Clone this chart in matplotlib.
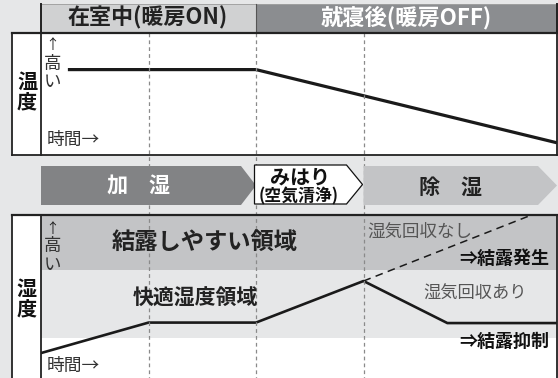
import matplotlib
matplotlib.use("Agg")
import matplotlib.pyplot as plt
from matplotlib.patches import Rectangle, Polygon

plt.rcParams['font.family'] = ['Noto Sans CJK JP', 'DejaVu Sans']

# ---------------- data ----------------
phase_bounds = [1.0, 2.0, 3.0]          # dashed guide lines (time units)
t_end = 4.8

temp_t = [0.25, 2.0, 4.8]
temp_v = [0.70, 0.70, 0.10]

hum_t = [0.0, 1.0, 2.0, 3.0, 3.78, 4.8]
hum_v = [0.153, 0.34, 0.34, 0.595, 0.337, 0.337]
hum_noreclaim_t = [3.0, 4.54]
hum_noreclaim_v = [0.595, 0.994]

band_condense = (0.663, 1.0)
band_comfort = (0.247, 0.663)

header_labels = ["在室中(暖房ON)", "就寝後(暖房OFF)"]
mode_labels = ["加　湿", "みはり", "(空気清浄)", "除　湿"]

# ---------------- layout (pixels) ----------------
W, H = 558, 378
X0, X_LAB, X1 = 12, 41, 557
PX_PER_T = (X1 - X_LAB) / t_end
BG = "#e6e7e8"
DARK = "#222222"
JP = ['Noto Sans CJK JP', 'DejaVu Sans']


def tx(t):
    return X_LAB + t * PX_PER_T


fig = plt.figure(figsize=(W / 100, H / 100), dpi=100, facecolor=BG)
renderer = fig.canvas.get_renderer()


def panel(y_top, y_bot):
    ax = fig.add_axes([X_LAB / W, 1 - y_bot / H, (X1 - X_LAB) / W, (y_bot - y_top) / H])
    ax.set_xlim(0, t_end)
    ax.set_ylim(0, 1)
    ax.set_facecolor("white")
    ax.set_axis_off()
    ax.add_patch(Rectangle((0, 0), 1, 1, transform=ax.transAxes, color="white", zorder=0))
    return ax


# temperature panel
ax_t = panel(33, 155)
ax_t.plot(temp_t, temp_v, color="#1a1a1a", lw=2.3, solid_capstyle="butt", zorder=3)

# humidity panel
ax_h = panel(215, 378)
ax_h.axhspan(*band_condense, color="#c3c4c6", lw=0, zorder=1)
ax_h.axhspan(*band_comfort, color="#e6e7e8", lw=0, zorder=1)
ax_h.plot(hum_t, hum_v, color="#1a1a1a", lw=1.9, zorder=3)
ax_h.plot(hum_noreclaim_t, hum_noreclaim_v, color="#1a1a1a", lw=1.1,
          dashes=(5, 3.5), zorder=3)

# overlay canvas in pixel coordinates
cv = fig.add_axes([0, 0, 1, 1], facecolor="none")
cv.set_xlim(0, W)
cv.set_ylim(H, 0)
cv.set_axis_off()


def label(x, y, s, width=None, size=12, **kw):
    """Place text; if width (px) is given, scale the font so the text spans it."""
    kw.setdefault("ha", "center")
    kw.setdefault("va", "center")
    kw.setdefault("color", "#222222")
    t = cv.text(x, y, s, fontsize=size, family=JP, zorder=kw.pop("zorder", 5), **kw)
    if width:
        w = t.get_window_extent(renderer).width
        t.set_fontsize(size * width / w)
    return t


# dashed guides
for b in phase_bounds:
    cv.plot([tx(b), tx(b)], [33, H], color="#8a8a8a", lw=0.9, dashes=(3, 2.5), zorder=2)

# header
x_mid = tx(phase_bounds[1])
cv.add_patch(Rectangle((X_LAB, 4), x_mid - X_LAB, 29, facecolor="#d0d1d2", edgecolor="#9a9a9a", lw=0.6, zorder=3))
cv.add_patch(Rectangle((x_mid, 4), X1 - x_mid, 29, facecolor="#8b8d90", edgecolor="#9a9a9a", lw=0.6, zorder=3))
cv.plot([X_LAB, X_LAB], [4, 33], color=DARK, lw=1.4, zorder=4)
cv.plot([X1, X1], [4, 33], color=DARK, lw=1.4, zorder=4)
cv.plot([x_mid, x_mid], [4, 33], color="#555555", lw=0.8, zorder=4)
label(148, 18, header_labels[0], width=160, fontweight="bold")
label(406.5, 18, header_labels[1], width=171, fontweight="bold", color="white")

# panel frames + label columns
for y_top, y_bot, name, ys in [(33, 155, "温度", (81, 102)), (215, 380, "湿度", (288, 309))]:
    cv.add_patch(Rectangle((X0, y_top), X_LAB - X0, y_bot - y_top, facecolor="white",
                           edgecolor="none", zorder=1))
    cv.plot([X0, X0], [y_top, y_bot], color=DARK, lw=1.3, zorder=4)
    cv.plot([X_LAB, X_LAB], [y_top, y_bot], color=DARK, lw=1.3, zorder=4)
    cv.plot([X1, X1], [y_top, y_bot], color=DARK, lw=1.3, zorder=4)
    cv.plot([X0, X1], [y_top, y_top], color=DARK, lw=1.6, zorder=4)
    for ch, y in zip(name, ys):
        label((X0 + X_LAB) / 2 + 0.5, y, ch, size=14.5, fontweight="bold", color="#111111")
cv.plot([X0, X1], [155, 155], color=DARK, lw=1.3, zorder=4)

# axis hint labels
for y_arrow, y_hi, y_i, y_time in [(45, 63.5, 82, 140), (229, 246.5, 265, 366)]:
    label(52, y_arrow, "↑", size=10)
    label(52.5, y_hi, "高", size=12.5, color="#333333")
    label(52.5, y_i, "い", size=12.5, color="#333333")
    label(47, y_time, "時間→", width=53, ha="left", color="#333333")

# mode arrows
def pent(x_l, x_r, y_t, y_b, tip, **kw):
    ym = (y_t + y_b) / 2
    cv.add_patch(Polygon([(x_l, y_t), (x_r - tip, y_t), (x_r, ym), (x_r - tip, y_b), (x_l, y_b)],
                         closed=True, zorder=6, **kw))

pent(X_LAB, tx(phase_bounds[1]), 166, 205, 15, facecolor="#828385", edgecolor="none")
pent(tx(phase_bounds[1]) - 1.5, tx(phase_bounds[2]) - 1, 165, 204, 16, facecolor="white",
     edgecolor="#111111", lw=0.9)
pent(tx(phase_bounds[2]), X1, 166, 205, 19, facecolor="#c3c4c6", edgecolor="none")
label(138.5, 186, mode_labels[0], width=63, fontweight="bold", color="white", zorder=7)
label(300, 177.5, mode_labels[1], width=60, fontweight="bold", color="#111111", zorder=7)
label(299, 196, mode_labels[2], width=80, fontweight="bold", color="#111111", zorder=7)
label(450.5, 187, mode_labels[3], width=63, fontweight="bold", zorder=7)

# region annotations
label(205, 242, "結露しやすい領域", width=186, fontweight="bold")
label(195.5, 298, "快適湿度領域", width=125, fontweight="bold")
label(367, 232, "湿気回収なし", width=105, ha="left", color="#555555")
label(549, 259, "⇒結露発生", width=90, ha="right", fontweight="bold", color="#111111")
label(527, 294, "湿気回収あり", width=103, ha="right", color="#555555")
label(549, 342, "⇒結露抑制", width=90, ha="right", fontweight="bold", color="#111111")

fig.savefig("out.png", dpi=100, facecolor=BG)
